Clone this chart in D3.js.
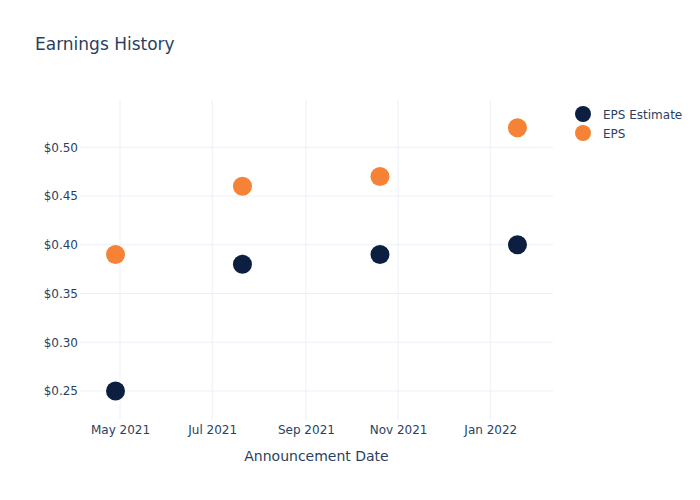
<!DOCTYPE html>
<html>
<head>
<meta charset="utf-8">
<script src="https://cdn.jsdelivr.net/npm/d3@7"></script>
<style>
body { margin: 0; background: #fff; }
text { font-family: "DejaVu Sans", sans-serif; fill: #2a3f5f; }
</style>
</head>
<body>
<div class="main"></div>
<script>
// data
var dates = ["2021-04-28", "2021-07-21", "2021-10-20", "2022-01-19"];
var epsEstimate = [0.25, 0.38, 0.39, 0.40];
var eps = [0.39, 0.46, 0.47, 0.52];
var yTicks = [0.25, 0.30, 0.35, 0.40, 0.45, 0.50];
var seriesNames = ["EPS Estimate", "EPS"];
var seriesColors = ["#0c1f41", "#f58235"];

//Canvas config
var margin = {top: 100, right: 147, bottom: 80, left: 80};
var width = 700 - margin.left - margin.right;
var height = 500 - margin.top - margin.bottom;

var parseDate = d3.timeParse("%Y-%m-%d");
var xs = dates.map(parseDate);

var svg = d3.select(".main")
	.append("svg")
	.attr("width", 700)
	.attr("height", 500);

var g = svg.append("g")
	.attr("transform", "translate(" + margin.left + "," + margin.top + ")");

var xScale = d3.scaleTime()
	.domain([new Date(2021, 3, 4, 12), new Date(2022, 1, 11, 12)])
	.range([0, width]);
var yScale = d3.scaleLinear()
	.domain([0.2202, 0.5485])
	.range([height, 0]);

//grid
g.append("g")
	.selectAll("line")
	.data(xScale.ticks(d3.timeMonth.every(2)))
	.enter().append("line")
	.attr("x1", function(d) { return xScale(d); })
	.attr("x2", function(d) { return xScale(d); })
	.attr("y1", 0).attr("y2", height)
	.style("stroke", "#ebf0f8").style("stroke-width", 1);
g.append("g")
	.selectAll("line")
	.data(yTicks)
	.enter().append("line")
	.attr("x1", 0).attr("x2", width)
	.attr("y1", function(d) { return yScale(d); })
	.attr("y2", function(d) { return yScale(d); })
	.style("stroke", "#ebf0f8").style("stroke-width", 1);

//axes
var xAxis = d3.axisBottom(xScale)
	.ticks(d3.timeMonth.every(2))
	.tickFormat(d3.timeFormat("%b %Y"))
	.tickSize(0).tickPadding(5);
var yAxis = d3.axisLeft(yScale)
	.tickValues(yTicks)
	.tickFormat(function(d) { return "$" + d3.format(".2f")(d); })
	.tickSize(0).tickPadding(2);

g.append("g")
	.attr("class", "x-axis")
	.attr("transform", "translate(0," + height + ")")
	.call(xAxis);
g.append("g")
	.attr("class", "y-axis")
	.call(yAxis);
svg.selectAll(".domain").remove();
svg.selectAll(".tick text").style("font-size", "12px").style("fill", "#2a3f5f");

//points
var series = [epsEstimate, eps];
series.forEach(function(vals, s) {
	g.append("g")
		.selectAll("circle")
		.data(vals)
		.enter().append("circle")
		.attr("cx", function(d, i) { return xScale(xs[i]); })
		.attr("cy", function(d) { return yScale(d); })
		.attr("r", 9.5)
		.style("fill", seriesColors[s]);
});

//title
svg.append("text")
	.text("Earnings History")
	.attr("x", 35).attr("y", 50)
	.style("font-size", "17px");
//x axis label
svg.append("text")
	.text("Announcement Date")
	.attr("x", margin.left + width / 2).attr("y", 461)
	.attr("text-anchor", "middle")
	.style("font-size", "14px");

//legend
var legend = svg.append("g")
	.attr("transform", "translate(583,114)");
seriesNames.forEach(function(name, i) {
	legend.append("circle")
		.attr("cx", 0).attr("cy", i * 19)
		.attr("r", 8)
		.style("fill", seriesColors[i]);
	legend.append("text")
		.text(name)
		.attr("x", 20).attr("y", i * 19 + 4.5)
		.style("font-size", "12px");
});
</script>
</body>
</html>
